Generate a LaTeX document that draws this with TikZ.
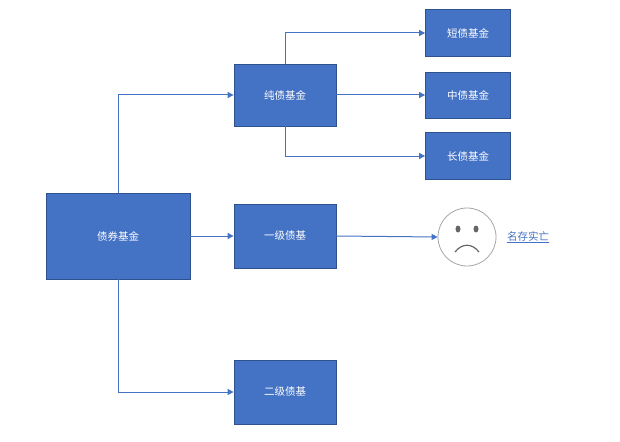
\documentclass[tikz,border=0pt]{standalone}
\usepackage{fontspec}
\newfontfamily\cjk{Noto Sans CJK SC}
\definecolor{bfill}{HTML}{4472C4}
\definecolor{bdraw}{HTML}{2F528F}
\definecolor{ln}{HTML}{4472C4}
\usetikzlibrary{arrows.meta}
\begin{document}
\begin{tikzpicture}[x=1pt,y=-1pt,
  box/.style={draw=bdraw,fill=bfill,line width=0.8pt,text=white,font=\cjk\fontsize{10.5}{12}\selectfont,anchor=center,inner sep=0pt},
  conn/.style={draw=ln,line width=1pt,-{Triangle[length=6pt,width=6pt]}}]
\useasboundingbox (0,0) rectangle (620,441);
\fill[white] (0,0) rectangle (620,441);
\node[box,minimum width=144pt,minimum height=86pt] (main) at (118,236) {债券基金};
\node[box,minimum width=102pt,minimum height=62pt] (pure) at (285,95) {纯债基金};
\node[box,minimum width=102pt,minimum height=64pt] (one) at (285,236) {一级债基};
\node[box,minimum width=102pt,minimum height=64pt] (two) at (285,392) {二级债基};
\node[box,minimum width=85pt,minimum height=47pt] (short) at (468,33) {短债基金};
\node[box,minimum width=85pt,minimum height=46pt] (mid) at (468,95) {中债基金};
\node[box,minimum width=85pt,minimum height=47pt] (long) at (468,156) {长债基金};
\node[circle,draw=gray!70,line width=0.8pt,fill=white,minimum size=58pt,inner sep=0pt] (face) at (467,237) {};
\fill[gray!80!black] (458,229) ellipse (2.5pt and 3.5pt);
\fill[gray!80!black] (476,229) ellipse (2.5pt and 3.5pt);
\draw[gray!80!black,line width=1.2pt] (455,252) .. controls (462,243) and (472,243) .. (479,252);
\node[font=\cjk\fontsize{10.5}{12}\selectfont,text=bfill,anchor=west,inner sep=0pt] (lbl) at (507,237) {\underline{名存实亡}};
\draw[conn] (main.north) |- (pure.west);
\draw[conn] (main.east) -- (one.west);
\draw[conn] (main.south) |- (two.west);
\draw[conn] (pure.east) -- (mid.west);
\draw[conn] (pure.north) |- (short.west);
\draw[conn] (pure.south) |- (long.west);
\draw[conn] (one.east) -- (face.west);
\end{tikzpicture}
\end{document}
